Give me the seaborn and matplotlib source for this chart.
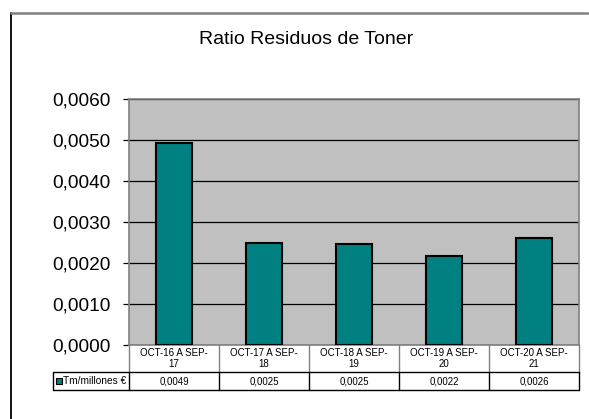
import matplotlib
matplotlib.use("Agg")
import matplotlib.pyplot as plt
import matplotlib.transforms as mtransforms
from matplotlib.ticker import FuncFormatter
import seaborn as sns
import pandas as pd

title = "Ratio Residuos de Toner"
categories = ["OCT-16 A SEP-17", "OCT-17 A SEP-18", "OCT-18 A SEP-19",
              "OCT-19 A SEP-20", "OCT-20 A SEP-21"]
header_labels = ["OCT-16 A SEP-\n17", "OCT-17 A SEP-\n18", "OCT-18 A SEP-\n19",
                 "OCT-19 A SEP-\n20", "OCT-20 A SEP-\n21"]
values = [0.00494, 0.00249, 0.00246, 0.00218, 0.00261]
series_name = "Tm/millones €"
yticks = [0.0, 0.001, 0.002, 0.003, 0.004, 0.005, 0.006]

sns.set_theme(style="white")
plt.rcParams["font.family"] = ["Liberation Sans", "DejaVu Sans"]

W, H = 589, 419
fig = plt.figure(figsize=(W / 100, H / 100), dpi=100)
fig.patch.set_facecolor("white")

def fx(px):
    return px / W

def fy(py):
    return 1 - py / H

left, right, top, bottom = 129, 579, 99.5, 345
ax = fig.add_axes([fx(left), fy(bottom), fx(right - left), (bottom - top) / H])
ax.set_facecolor("#C0C0C0")

df = pd.DataFrame({"cat": categories, "val": values})
sns.barplot(data=df, x="cat", y="val", color="#008080", width=0.4,
            edgecolor="black", linewidth=1.5, saturation=1, ax=ax, zorder=3)

ax.set_xlim(-0.5, len(categories) - 0.5)
ax.set_ylim(0, 0.006)
ax.set_yticks(yticks)
ax.yaxis.set_major_formatter(FuncFormatter(lambda v, p: f"{v:.4f}".replace(".", ",")))
ax.set_xticks([])
ax.set_xlabel("")
ax.set_ylabel("")
ax.grid(axis="y", color="black", linewidth=0.9, zorder=1)
ax.set_axisbelow(True)
ax.tick_params(axis="y", which="major", length=4.3, width=0.9, color="black",
               labelsize=13.7, labelcolor="black", pad=9, left=True)
for side in ["top", "right", "bottom", "left"]:
    ax.spines[side].set_color("#808080")
    ax.spines[side].set_linewidth(1.2)

# Title
fig.text(fx(306), fy(39), title, ha="center", va="center", fontsize=14, color="black")

# Outer frame lines (left black, top gray)
fig.add_artist(plt.Line2D([fx(11), fx(11)], [fy(13), 0], color="black", linewidth=1.3,
                          transform=fig.transFigure))
fig.add_artist(plt.Line2D([fx(11), fx(588)], [fy(13), fy(13)], color="#808080",
                          linewidth=1.8, transform=fig.transFigure))

# Data table below axis
trans = mtransforms.blended_transform_factory(ax.transData, fig.transFigure)
n = len(categories)
r0, r1, r2 = bottom, 371.5, 389.5
for i in range(n + 1):
    ax.add_artist(plt.Line2D([i - 0.5, i - 0.5], [fy(r0), fy(r1)], color="#808080",
                             linewidth=1.0, transform=trans, clip_on=False))
ax.add_artist(plt.Line2D([-0.5, n - 0.5], [fy(r1), fy(r1)], color="black",
                         linewidth=1.0, transform=trans, clip_on=False))
ax.add_artist(plt.Line2D([-0.5, n - 0.5], [fy(r2), fy(r2)], color="black",
                         linewidth=1.0, transform=trans, clip_on=False))
for i in range(n + 1):
    ax.add_artist(plt.Line2D([i - 0.5, i - 0.5], [fy(r1), fy(r2)], color="black",
                             linewidth=1.0, transform=trans, clip_on=False))
for i, lab in enumerate(header_labels):
    ax.text(i, fy((r0 + r1) / 2 + 0.5), lab, transform=trans, ha="center", va="center",
            fontsize=7, linespacing=1.15, color="black", clip_on=False)
for i, v in enumerate(values):
    ax.text(i, fy((r1 + r2) / 2 + 0.5), f"{v:.4f}".replace(".", ","), transform=trans,
            ha="center", va="center", fontsize=7, color="black", clip_on=False)

# legend cell
lx0 = 53
fig.add_artist(plt.Line2D([fx(lx0), fx(left)], [fy(r1), fy(r1)], color="black",
                          linewidth=1.0, transform=fig.transFigure))
fig.add_artist(plt.Line2D([fx(lx0), fx(left)], [fy(r2), fy(r2)], color="black",
                          linewidth=1.0, transform=fig.transFigure))
fig.add_artist(plt.Line2D([fx(lx0), fx(lx0)], [fy(r1), fy(r2)], color="black",
                          linewidth=1.0, transform=fig.transFigure))
fig.add_artist(plt.Rectangle((fx(56), fy(384)), fx(6), 6 / H, facecolor="#008080",
                             edgecolor="black", linewidth=0.8, transform=fig.transFigure))
fig.text(fx(63), fy((r1 + r2) / 2 + 0.5), series_name, ha="left", va="center",
         fontsize=7.3, color="black")

fig.savefig("out.png", dpi=100)
